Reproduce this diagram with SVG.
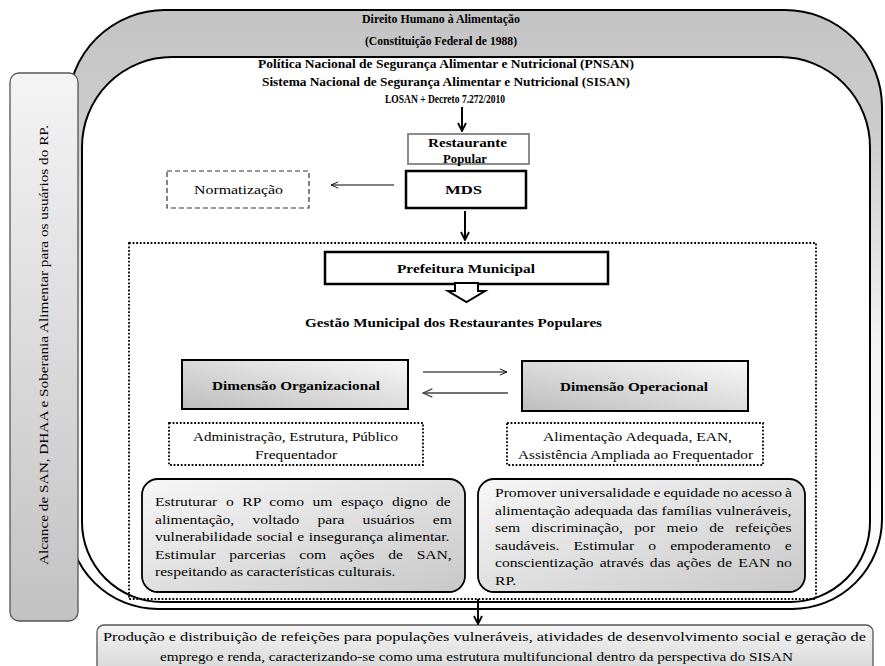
<svg xmlns="http://www.w3.org/2000/svg" width="885" height="666" viewBox="0 0 885 666">
<style>
  .t { font-family: "Liberation Serif", "DejaVu Serif", serif; fill: #000; font-size: 13px; }
  .b { font-weight: bold; }
  .thick { stroke: #000; stroke-width: 2; fill: none; }
  .thin { stroke: #000; stroke-width: 1; fill: none; }
  .dot { fill: #fff; stroke: #000; stroke-width: 1.8; stroke-dasharray: 1.8 1.8; }
</style>
<defs>
  <linearGradient id="band" x1="0" y1="0" x2="0" y2="1">
    <stop offset="0" stop-color="#c4c4c4"/>
    <stop offset="0.2" stop-color="#cccccc"/>
    <stop offset="0.55" stop-color="#f2f2f2"/>
    <stop offset="1" stop-color="#ffffff"/>
  </linearGradient>
  <linearGradient id="side" x1="0" y1="0" x2="0" y2="1">
    <stop offset="0" stop-color="#f4f4f4"/>
    <stop offset="1" stop-color="#c2c2c2"/>
  </linearGradient>
  <linearGradient id="dim" x1="0" y1="1" x2="1" y2="0">
    <stop offset="0" stop-color="#bdbdbd"/>
    <stop offset="1" stop-color="#f8f8f8"/>
  </linearGradient>
  <linearGradient id="para" x1="0" y1="0" x2="1" y2="1">
    <stop offset="0" stop-color="#f7f7f7"/>
    <stop offset="1" stop-color="#c8c8c8"/>
  </linearGradient>
  <linearGradient id="foot" x1="0" y1="0" x2="0" y2="1">
    <stop offset="0" stop-color="#f4f4f4"/>
    <stop offset="1" stop-color="#d4d4d4"/>
  </linearGradient>
  <marker id="ah" viewBox="0 0 10 10" refX="9" refY="5" markerWidth="5" markerHeight="5" orient="auto" markerUnits="strokeWidth">
    <path d="M1,1 L9,5 L1,9" fill="none" stroke="#000" stroke-width="1.8"/>
  </marker>
  <marker id="ahs" viewBox="0 0 10 10" refX="9" refY="5" markerWidth="9" markerHeight="9" orient="auto" markerUnits="strokeWidth">
    <path d="M1,1.5 L9,5 L1,8.5" fill="none" stroke="#000" stroke-width="1"/>
  </marker>
  <marker id="ahg" viewBox="0 0 10 10" refX="9" refY="5" markerWidth="9" markerHeight="9" orient="auto" markerUnits="strokeWidth">
    <path d="M1,1.5 L9,5 L1,8.5" fill="none" stroke="#444" stroke-width="1"/>
  </marker>
</defs>

<g font-family="Liberation Serif, DejaVu Serif, serif">
<g id="frame">
  <path d="M165,10 H785 A97 97 0 0 1 882,107 V519 A90 90 0 0 1 792,609 H158 A90 90 0 0 1 68,519 V107 A97 97 0 0 1 165,10 Z
           M172,57 H780 A90 90 0 0 1 870,147 V522 A80 80 0 0 1 790,602 H162 A80 80 0 0 1 82,522 V147 A90 90 0 0 1 172,57 Z"
        fill="url(#band)" fill-rule="evenodd" stroke="#000" stroke-width="2"/>
  <text class="t b" x="362" y="23" textLength="158" lengthAdjust="spacingAndGlyphs" font-size="14">Direito Humano à Alimentação</text>
  <text class="t b" x="365" y="45" textLength="152" lengthAdjust="spacingAndGlyphs" font-size="14">(Constituição Federal de 1988)</text>
</g>

<g id="sidebar">
  <rect x="10" y="73" width="68" height="548" rx="9" fill="url(#side)" stroke="#555" stroke-width="1.3"/>
  <text class="t" transform="translate(48,565) rotate(-90)" x="0" y="0" textLength="440" lengthAdjust="spacingAndGlyphs">Alcance de SAN, DHAA e Soberania Alimentar para os usuários do RP.</text>
</g>

<g id="politica">
  <text class="t b" x="258" y="68" textLength="376" lengthAdjust="spacingAndGlyphs" font-size="14">Política Nacional de Segurança Alimentar e Nutricional (PNSAN)</text>
  <text class="t b" x="262" y="86" textLength="368" lengthAdjust="spacingAndGlyphs" font-size="14">Sistema Nacional de Segurança Alimentar e Nutricional (SISAN)</text>
  <text class="t b" x="385" y="103" textLength="120" lengthAdjust="spacingAndGlyphs" font-size="14">LOSAN + Decreto 7.272/2010</text>
</g>

<g id="restaurante">
  <rect x="408" y="134" width="121" height="30" fill="#fff" stroke="#808080" stroke-width="1.8"/>
  <text class="t b" x="428" y="147" textLength="79" lengthAdjust="spacingAndGlyphs">Restaurante</text>
  <text class="t b" x="443" y="163" textLength="44" lengthAdjust="spacingAndGlyphs">Popular</text>
</g>

<g id="mds">
  <rect x="406" y="171" width="120" height="37" fill="#fff" stroke="#000" stroke-width="2.5"/>
  <text class="t b" x="445" y="194" textLength="37" lengthAdjust="spacingAndGlyphs">MDS</text>
</g>

<g id="normatizacao">
  <rect x="167" y="171" width="142" height="37" fill="#fff" stroke="#333" stroke-width="1.2" stroke-dasharray="5 3"/>
  <text class="t" x="194" y="194" textLength="89" lengthAdjust="spacingAndGlyphs">Normatização</text>
</g>

<g id="gestao">
  <rect x="129" y="243" width="687" height="356" class="dot" style="fill:none"/>
</g>

<g id="prefeitura">
  <rect x="325" y="252" width="283" height="32" fill="#fff" stroke="#000" stroke-width="2.5"/>
  <text class="t b" x="397" y="273" textLength="138" lengthAdjust="spacingAndGlyphs">Prefeitura Municipal</text>
  <polygon points="455,283 455,291 448,291 466.5,302 485,291 478,291 478,283" fill="#fff" stroke="#000" stroke-width="2" stroke-linejoin="miter"/>
  <text class="t b" x="305" y="327" textLength="297" lengthAdjust="spacingAndGlyphs">Gestão Municipal dos Restaurantes Populares</text>
</g>

<g id="dim-org">
  <rect x="182" y="360" width="226" height="49" fill="url(#dim)" stroke="#000" stroke-width="2"/>
  <text class="t b" x="212" y="390" textLength="168" lengthAdjust="spacingAndGlyphs">Dimensão Organizacional</text>
</g>

<g id="dim-op">
  <rect x="522" y="361" width="226" height="50" fill="url(#dim)" stroke="#000" stroke-width="2"/>
  <text class="t b" x="560" y="391" textLength="148" lengthAdjust="spacingAndGlyphs">Dimensão Operacional</text>
</g>

<g id="org-items">
  <rect x="169" y="423" width="254" height="42" class="dot"/>
  <text class="t" x="193" y="441" textLength="205" lengthAdjust="spacingAndGlyphs">Administração, Estrutura, Público</text>
  <text class="t" x="255" y="459" textLength="82" lengthAdjust="spacingAndGlyphs">Frequentador</text>
</g>

<g id="op-items">
  <rect x="507" y="423" width="256" height="42" class="dot"/>
  <text class="t" x="543" y="441" textLength="189" lengthAdjust="spacingAndGlyphs">Alimentação Adequada, EAN,</text>
  <text class="t" x="518" y="459" textLength="235" lengthAdjust="spacingAndGlyphs">Assistência Ampliada ao Frequentador</text>
</g>

<g id="org-text">
  <rect x="142" y="479" width="323" height="113" rx="16" fill="url(#para)" stroke="#000" stroke-width="1.8"/>
  <text class="t" transform="matrix(1.2,0,0,1,155,506)" word-spacing="3.9">Estruturar o RP como um espaço digno de</text>
  <text class="t" transform="matrix(1.2,0,0,1,155,523.5)" word-spacing="12">alimentação, voltado para usuários em</text>
  <text class="t" transform="matrix(1.2,0,0,1,155,541)" word-spacing="0.5">vulnerabilidade social e insegurança alimentar.</text>
  <text class="t" transform="matrix(1.2,0,0,1,155,558.5)" word-spacing="8.2">Estimular parcerias com ações de SAN,</text>
  <text class="t" transform="matrix(1.2,0,0,1,155,576)" word-spacing="-0.5">respeitando as características culturais.</text>
</g>

<g id="op-text">
  <rect x="478" y="479" width="327" height="113" rx="16" fill="url(#para)" stroke="#000" stroke-width="1.8"/>
  <text class="t" transform="matrix(1.2,0,0,1,495,497)" word-spacing="-0.7">Promover universalidade e equidade no acesso à</text>
  <text class="t" transform="matrix(1.2,0,0,1,495,514.5)" word-spacing="0">alimentação adequada das famílias vulneráveis,</text>
  <text class="t" transform="matrix(1.2,0,0,1,495,532)" word-spacing="6.3">sem discriminação, por meio de refeições</text>
  <text class="t" transform="matrix(1.2,0,0,1,495,549.5)" word-spacing="8.5">saudáveis. Estimular o empoderamento e</text>
  <text class="t" transform="matrix(1.2,0,0,1,495,567)" word-spacing="1.8">conscientização através das ações de EAN no</text>
  <text class="t" transform="matrix(1.2,0,0,1,495,584.5)">RP.</text>
</g>

<g id="resultado">
  <rect x="97" y="625" width="776" height="52" rx="7" fill="url(#foot)" stroke="#555" stroke-width="1.3"/>
  <text class="t" x="103" y="641" textLength="763" lengthAdjust="spacingAndGlyphs">Produção e distribuição de refeições para populações vulneráveis, atividades de desenvolvimento social e geração de</text>
  <text class="t" x="160" y="661" textLength="633" lengthAdjust="spacingAndGlyphs">emprego e renda, caracterizando-se como uma estrutura multifuncional dentro da perspectiva do SISAN</text>
</g>
</g>

<g id="connectors">
  <line x1="462" y1="107" x2="462" y2="131" class="thick" marker-end="url(#ah)"/>
  <line x1="465" y1="211" x2="465" y2="240" class="thick" marker-end="url(#ah)"/>
  <line x1="394" y1="185" x2="331" y2="185" class="thin" marker-end="url(#ahs)"/>
  <line x1="423" y1="372" x2="507" y2="372" class="thin" marker-end="url(#ahs)"/>
  <line x1="508" y1="393" x2="423" y2="393" stroke="#444" stroke-width="1.3" fill="none" marker-end="url(#ahg)"/>
  <line x1="478" y1="599" x2="478" y2="624" class="thick" marker-end="url(#ah)"/>
</g>
</svg>
